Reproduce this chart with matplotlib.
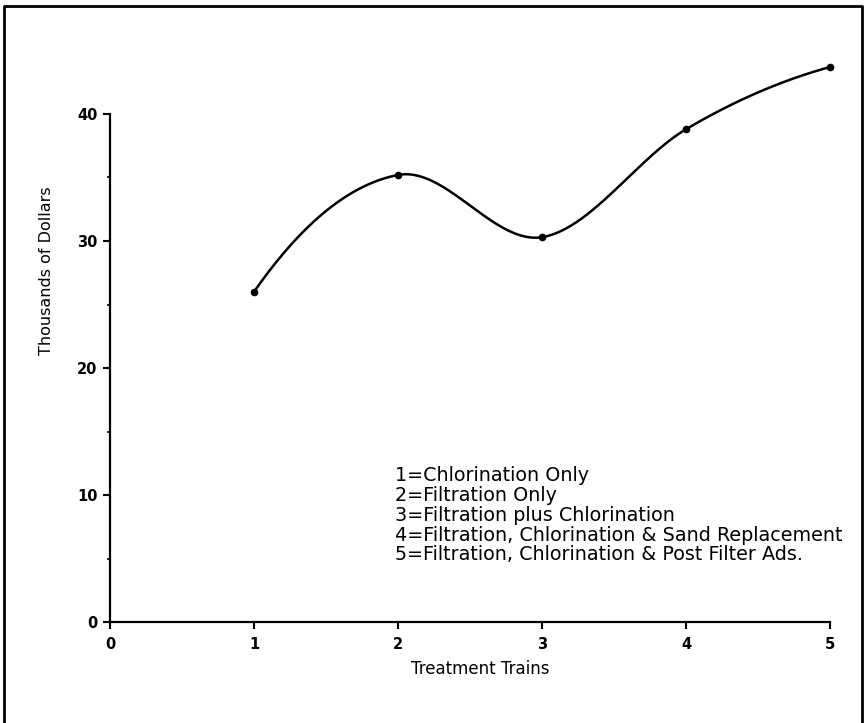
import numpy as np
import matplotlib.pyplot as plt
from matplotlib.lines import Line2D

# data
trains = [1, 2, 3, 4, 5]
cost = [26.0, 35.2, 30.3, 38.8, 43.7]   # thousands of dollars

legend_lines = [
    '1=Chlorination Only',
    '2=Filtration Only',
    '3=Filtration plus Chlorination',
    '4=Filtration, Chlorination & Sand Replacement',
    '5=Filtration, Chlorination & Post Filter Ads.',
]

x_ticks = [0, 1, 2, 3, 4, 5]
y_ticks = [0, 10, 20, 30, 40]
y_minor = [5, 15, 25, 35]


def smooth_curve(x, y, n=60):
    # cubic hermite (catmull-rom style) through the points, just for the drawn curve
    x = np.asarray(x, float)
    y = np.asarray(y, float)
    m = np.zeros(len(x))
    m[1:-1] = (y[2:] - y[:-2]) / (x[2:] - x[:-2])
    m[0] = 2 * (y[1] - y[0]) / (x[1] - x[0]) - m[1]
    m[-1] = 2 * (y[-1] - y[-2]) / (x[-1] - x[-2]) - m[-2]
    xs_all, ys_all = [], []
    for i in range(len(x) - 1):
        h = x[i + 1] - x[i]
        t = np.linspace(0, 1, n)
        h00 = 2 * t**3 - 3 * t**2 + 1
        h10 = t**3 - 2 * t**2 + t
        h01 = -2 * t**3 + 3 * t**2
        h11 = t**3 - t**2
        xs_all.append(x[i] + t * h)
        ys_all.append(h00 * y[i] + h10 * h * m[i] + h01 * y[i + 1] + h11 * h * m[i + 1])
    return np.concatenate(xs_all), np.concatenate(ys_all)


fig = plt.figure(figsize=(8.68, 7.23), dpi=100)
ax = fig.add_axes([110 / 868, 101 / 723, 720 / 868, 571.5 / 723])

xs, ys = smooth_curve(trains, cost)
ax.plot(xs, ys, color='black', lw=1.8, clip_on=False)
ax.plot(trains, cost, 'o', color='black', ms=4.5, clip_on=False)

ax.set_xlim(0, 5)
ax.set_ylim(0, 45)
ax.set_xticks(x_ticks)
ax.set_yticks(y_ticks)
ax.set_yticks(y_minor, minor=True)
ax.tick_params(axis='both', which='major', length=5, width=1.5, labelsize=10.5)
ax.tick_params(axis='x', which='major', pad=6)
ax.tick_params(axis='y', which='major', pad=4)
ax.tick_params(axis='y', which='minor', length=2.5, width=1.2)
for lab in ax.get_xticklabels() + ax.get_yticklabels():
    lab.set_fontweight('bold')

ax.spines['top'].set_visible(False)
ax.spines['right'].set_visible(False)
ax.spines['left'].set_bounds(0, 40)
ax.spines['left'].set_linewidth(1.6)
ax.spines['bottom'].set_linewidth(1.6)

# key text, one line at a time
for i, line in enumerate(legend_lines):
    ax.text(1.98, 11.5 - i * 1.55, line, fontsize=13.8, va='center', ha='left')

fig.text(480 / 868, 1 - 669 / 723, 'Treatment Trains', fontsize=12,
         ha='center', va='center')
fig.text(47 / 868, 1 - 271 / 723, 'Thousands of Dollars', fontsize=11.5,
         ha='center', va='center', rotation=90)

# outer frame, open at the bottom edge
fx = [4 / 868, 4 / 868, 862 / 868, 862 / 868]
fy = [0, 1 - 6 / 723, 1 - 6 / 723, 0]
fig.add_artist(Line2D(fx, fy, color='black', lw=2, transform=fig.transFigure))

fig.savefig('out.png', dpi=100)
